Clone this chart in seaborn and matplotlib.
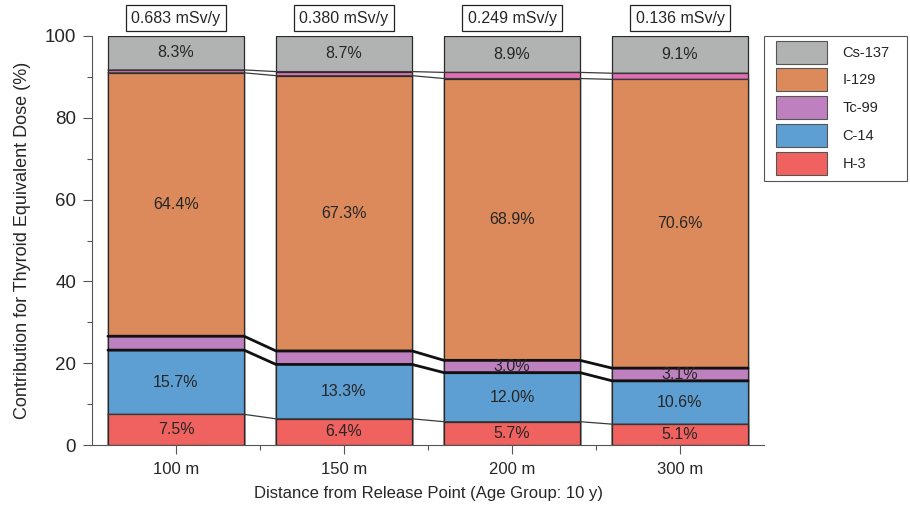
import matplotlib
matplotlib.use("Agg")
import matplotlib.pyplot as plt
from matplotlib.patches import Patch, Rectangle
import seaborn as sns

# Distance categories and total thyroid equivalent dose at each point
distances = ["100 m", "150 m", "200 m", "300 m"]
dose_labels = ["0.683 mSv/y", "0.380 mSv/y", "0.249 mSv/y", "0.136 mSv/y"]

# Nuclide contributions (%)
h3 = [7.5, 6.4, 5.7, 5.1]
c14 = [15.7, 13.3, 12.0, 10.6]
tc99 = [3.4, 3.3, 3.0, 3.1]
i129 = [64.4, 67.3, 68.9, 70.6]
cs137 = [8.3, 8.7, 8.9, 9.1]

# Which segment values get a text label
show_tc99 = [False, False, True, True]

colors = {
    "Cs-137": "#b1b3b3",
    "I-129": "#dc8a5b",
    "Tc-99": "#bf80bf",
    "C-14": "#5e9fd3",
    "H-3": "#f0625f",
    "minor": "#e070b4",
}

sns.set_style("white")
plt.rcParams["font.family"] = ["Liberation Sans", "DejaVu Sans"]

W, H = 910, 508
fig = plt.figure(figsize=(W / 100, H / 100), dpi=100)
ax = fig.add_axes([92 / W, 1 - 445 / H, (764 - 92) / W, (445 - 36) / H])

n = len(distances)
# cumulative levels of each boundary, bottom to top
lv_h3 = [h3[i] for i in range(n)]
lv_c14 = [lv_h3[i] + c14[i] for i in range(n)]
lv_tc = [lv_c14[i] + tc99[i] for i in range(n)]
lv_i = [lv_tc[i] + i129[i] for i in range(n)]
lv_cs_bottom = [100 - cs137[i] for i in range(n)]

bar_w = 0.81
edge = "#2a2a2a"
layers = [
    ([100.0] * n, colors["Cs-137"]),
    (lv_cs_bottom, colors["minor"]),
    (lv_i, colors["I-129"]),
    (lv_tc, colors["Tc-99"]),
    (lv_c14, colors["C-14"]),
    (lv_h3, colors["H-3"]),
]
for heights, col in layers:
    sns.barplot(x=distances, y=heights, color=col, saturation=1, width=bar_w,
                edgecolor=edge, linewidth=0.9, ax=ax, errorbar=None)

# boundary lines that run across each bar and link to the next bar
def boundary(levels, color, lw):
    xs, ys = [], []
    for i in range(n):
        xs += [i - bar_w / 2, i + bar_w / 2]
        ys += [levels[i], levels[i]]
    ax.plot(xs, ys, color=color, lw=lw, solid_joinstyle="miter", zorder=5)

boundary(lv_h3, "#3a3a3a", 0.9)
boundary(lv_c14, "#111111", 2.0)
boundary(lv_tc, "#111111", 2.0)
boundary(lv_i, "#3a3a3a", 0.9)
boundary(lv_cs_bottom, "#3a3a3a", 0.9)

# segment value labels
fs = 11.5
for i in range(n):
    ax.text(i, lv_h3[i] / 2, f"{h3[i]:.1f}%", ha="center", va="center", fontsize=fs, zorder=6)
    ax.text(i, (lv_h3[i] + lv_c14[i]) / 2, f"{c14[i]:.1f}%", ha="center", va="center", fontsize=fs, zorder=6)
    if show_tc99[i]:
        ax.text(i, (lv_c14[i] + lv_tc[i]) / 2, f"{tc99[i]:.1f}%", ha="center", va="center", fontsize=fs, zorder=6)
    ax.text(i, (lv_tc[i] + lv_i[i]) / 2, f"{i129[i]:.1f}%", ha="center", va="center", fontsize=fs, zorder=6)
    ax.text(i, (lv_cs_bottom[i] + 100) / 2, f"{cs137[i]:.1f}%", ha="center", va="center", fontsize=fs, zorder=6)
    ax.text(i, 104.4, dose_labels[i], ha="center", va="center", fontsize=fs, clip_on=False,
            bbox=dict(boxstyle="square,pad=0.35", facecolor="white", edgecolor="#222222", linewidth=0.9))

ax.set_xlim(-0.5, 3.5)
ax.set_ylim(0, 100)
ax.set_yticks([0, 20, 40, 60, 80, 100])
ax.set_yticks([10, 30, 50, 70, 90], minor=True)
ax.set_xticks(range(n))
ax.set_xticks([0.5, 1.5, 2.5], minor=True)
ax.tick_params(axis="both", which="major", direction="out", length=6.5, width=0.8,
               color="#555555", labelsize=13.5, left=True, bottom=True, pad=5)
ax.tick_params(axis="both", which="minor", direction="out", length=3.6, width=0.8,
               color="#555555", left=True, bottom=True)
ax.tick_params(axis="x", labelsize=12, pad=6)

for side in ["top", "right"]:
    ax.spines[side].set_visible(False)
for side in ["left", "bottom"]:
    ax.spines[side].set_color("#555555")
    ax.spines[side].set_linewidth(0.8)

ax.set_ylabel("Contribution for Thyroid Equivalent Dose (%)", fontsize=13, labelpad=10)
ax.set_xlabel("Distance from Release Point (Age Group: 10 y)", fontsize=12, labelpad=6)

# legend entries with a separately drawn frame
legend_items = ["Cs-137", "I-129", "Tc-99", "C-14", "H-3"]
handles = [Patch(facecolor=colors[k], edgecolor="#555555", linewidth=0.8, label=k) for k in legend_items]
lfs = 10.5
fig.legend(handles=handles, loc="upper left", bbox_to_anchor=(776 / W, 1 - 40.5 / H),
           fontsize=lfs, handlelength=3.5, handleheight=2.05, labelspacing=0.33,
           borderpad=0, borderaxespad=0, handletextpad=1.05, frameon=False)
fig.add_artist(Rectangle((764 / W, 1 - 181 / H), (907 - 764) / W, (181 - 36) / H,
                         transform=fig.transFigure, facecolor="none",
                         edgecolor="#555555", linewidth=0.8))

fig.savefig("out.png", dpi=100)
